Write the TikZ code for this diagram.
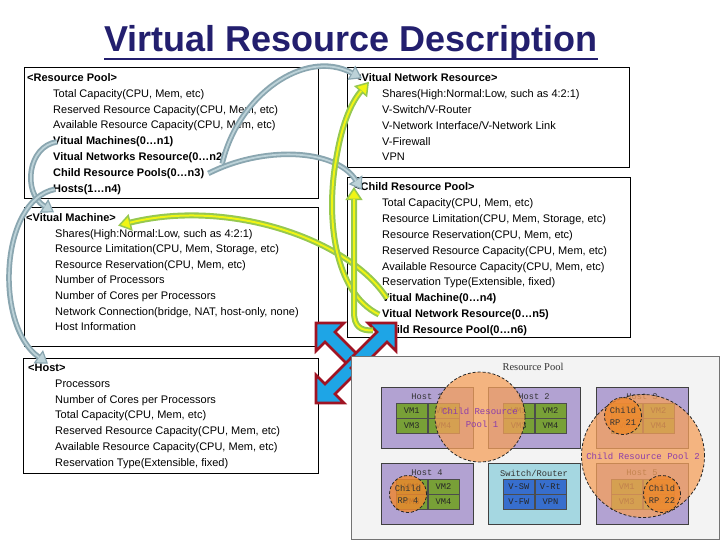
\documentclass[tikz,border=0pt]{standalone}
\usepackage{fontspec}
\setmainfont{Liberation Sans}
\newfontfamily\monof{Liberation Mono}
\newfontfamily\seriff{Liberation Serif}
\usetikzlibrary{arrows.meta}
\definecolor{navy}{RGB}{35,31,110}
\definecolor{grayarr}{RGB}{138,166,176}
\definecolor{grayarrlt}{RGB}{188,210,216}
\definecolor{greenarr}{RGB}{150,200,80}
\definecolor{yellowarr}{RGB}{240,245,20}
\definecolor{iconblue}{RGB}{30,165,230}
\definecolor{iconred}{RGB}{160,20,35}
\definecolor{hostfill}{RGB}{178,162,210}
\definecolor{swfill}{RGB}{165,215,225}
\definecolor{vmfill}{RGB}{120,160,55}
\definecolor{swcell}{RGB}{55,110,205}
\definecolor{crpfill}{RGB}{245,160,90}
\definecolor{crpsmall}{RGB}{240,135,45}
\definecolor{crptext}{RGB}{140,60,170}
\definecolor{shotfill}{RGB}{243,243,243}
\newcommand\dualpath[3]{\draw[#1] #3; \draw[#2] #3;}
\newcommand\vmgrid[8]{%
 \node[cell, fill=#4, anchor=north west] (#1a) at (#2,#3) {#5};
 \node[cell, fill=#4, anchor=north west] (#1b) at (#1a.north east) {#6};
 \node[cell, fill=#4, anchor=north west] (#1c) at (#1a.south west) {#7};
 \node[cell, fill=#4, anchor=north west] (#1d) at (#1a.south east) {#8};
}
\begin{document}
\begin{tikzpicture}[x=1pt,y=-1pt,
  infobox/.style={draw=black, line width=0.9pt, fill=white, inner sep=0pt},
  hdr/.style={anchor=base west, inner sep=0pt, font=\fontsize{11}{13}\selectfont\bfseries},
  itm/.style={anchor=base west, inner sep=0pt, font=\fontsize{11}{13}\selectfont},
  itmb/.style={anchor=base west, inner sep=0pt, font=\fontsize{11}{13}\selectfont\bfseries},
  garrow/.style={draw=grayarr, line width=5.5pt, -{Triangle[length=12pt,width=16pt,fill=grayarrlt,line width=1.2pt]}},
  gin/.style={draw=grayarrlt, line width=1.8pt, shorten >=11pt},
  grarrow/.style={draw=greenarr, line width=6pt, -{Triangle[length=13pt,width=17pt,fill=yellowarr,line width=1.5pt]}},
  grin/.style={draw=yellowarr, line width=2pt, shorten >=12pt},
  iconarr/.style={draw=iconred, fill=iconblue, line width=2.6pt, line join=miter},
  hostbx/.style={draw=black!75, line width=0.8pt, fill=hostfill, minimum width=92pt, minimum height=61pt, anchor=north west, inner sep=0pt},
  htitle/.style={inner sep=0pt, font=\monof\fontsize{8.7}{9}\selectfont, text=black!80},
  cell/.style={draw=black!70, line width=0.6pt, minimum width=31pt, minimum height=14.5pt, inner sep=0pt, font=\monof\fontsize{8.7}{9}\selectfont, text=black!85},
  crp/.style={circle, draw=black!85, dash pattern=on 3pt off 2pt, line width=0.8pt, fill=crpfill, fill opacity=0.75, inner sep=0pt},
  crps/.style={circle, draw=black!85, dash pattern=on 3pt off 2pt, line width=0.8pt, fill=crpsmall, fill opacity=0.8, inner sep=0pt, minimum size=37pt},
  crpt/.style={inner sep=0pt, font=\monof\fontsize{9}{10}\selectfont, text=crptext},
  crpst/.style={inner sep=0pt, font=\monof\fontsize{8.7}{9}\selectfont, text=black!80}
]
\useasboundingbox (0,0) rectangle (720,540);
\fill[white] (0,0) rectangle (720,540);

% title
\node[font=\fontsize{36}{40}\selectfont\bfseries, text=navy, anchor=base, inner sep=0pt] (title) at (351,52) {Virtual Resource Description};
\draw[navy, line width=2.6pt] ([yshift=-7pt]title.base west) -- ([yshift=-7pt]title.base east);

% left boxes
\node[infobox, minimum width=294pt, minimum height=131pt, anchor=north west] (rpbox) at (24,67) {};
\node[hdr] (rp0) at (27,81.5) {<Resource Pool>};
\node[itm] (rp1) at (53,97.3) {Total Capacity(CPU, Mem, etc)};
\node[itm] (rp2) at (53,113.1) {Reserved Resource Capacity(CPU, Mem, etc)};
\node[itm] (rp3) at (53,128.9) {Available Resource Capacity(CPU, Mem, etc)};
\node[itmb] (rp4) at (53,144.7) {Vitual Machines(0…n1)};
\node[itmb] (rp5) at (53,160.5) {Vitual Networks Resource(0…n2)};
\node[itmb] (rp6) at (53,176.3) {Child Resource Pools(0…n3)};
\node[itmb] (rp7) at (53,192.1) {Hosts(1…n4)};

\node[infobox, minimum width=294pt, minimum height=139pt, anchor=north west] (vmbox) at (24,207) {};
\node[hdr] (vm0) at (26,221.5) {<Vitual Machine>};
\node[itm] (vm1) at (55,237.1) {Shares(High:Normal:Low, such as 4:2:1)};
\node[itm] (vm2) at (55,252.7) {Resource Limitation(CPU, Mem, Storage, etc)};
\node[itm] (vm3) at (55,268.3) {Resource Reservation(CPU, Mem, etc)};
\node[itm] (vm4) at (55,283.9) {Number of Processors};
\node[itm] (vm5) at (55,299.5) {Number of Cores per Processors};
\node[itm] (vm6) at (55,315.1) {Network Connection(bridge, NAT, host-only, none)};
\node[itm] (vm7) at (55,330.7) {Host Information};

\node[infobox, minimum width=295pt, minimum height=115pt, anchor=north west] (hobox) at (23,358) {};
\node[hdr] (ho0) at (28,371.5) {<Host>};
\node[itm] (ho1) at (55,387.3) {Processors};
\node[itm] (ho2) at (55,403) {Number of Cores per Processors};
\node[itm] (ho3) at (55,418.8) {Total Capacity(CPU, Mem, etc)};
\node[itm] (ho4) at (55,434.5) {Reserved Resource Capacity(CPU, Mem, etc)};
\node[itm] (ho5) at (55,450.3) {Available Resource Capacity(CPU, Mem, etc)};
\node[itm] (ho6) at (55,466) {Reservation Type(Extensible, fixed)};

% right boxes
\node[infobox, minimum width=282pt, minimum height=100pt, anchor=north west] (vnbox) at (347,67) {};
\node[hdr] (vn0) at (355,81.5) {<Vitual Network Resource>};
\node[itm] (vn1) at (382,97.4) {Shares(High:Normal:Low, such as 4:2:1)};
\node[itm] (vn2) at (382,113.3) {V-Switch/V-Router};
\node[itm] (vn3) at (382,129.2) {V-Network Interface/V-Network Link};
\node[itm] (vn4) at (382,145.1) {V-Firewall};
\node[itm] (vn5) at (382,161) {VPN};

\node[infobox, minimum width=283pt, minimum height=160pt, anchor=north west] (crpbox) at (347,177) {};
\node[hdr] (crp0) at (354,191) {<Child Resource Pool>};
\node[itm] (crp1) at (382,206.8) {Total Capacity(CPU, Mem, etc)};
\node[itm] (crp2) at (382,222.6) {Resource Limitation(CPU, Mem, Storage, etc)};
\node[itm] (crp3) at (382,238.4) {Resource Reservation(CPU, Mem, etc)};
\node[itm] (crp4) at (382,254.2) {Reserved Resource Capacity(CPU, Mem, etc)};
\node[itm] (crp5) at (382,270) {Available Resource Capacity(CPU, Mem, etc)};
\node[itm] (crp6) at (382,285.8) {Reservation Type(Extensible, fixed)};
\node[itmb] (crp7) at (382,301.6) {Vitual Machine(0…n4)};
\node[itmb] (crp8) at (382,317.4) {Vitual Network Resource(0…n5)};
\node[itmb] (crp9) at (382,333.2) {Child Resource Pool(0…n6)};

% four-way icon
\begin{scope}[shift={(356,363)}]
 \foreach \sx/\sy in {1/1,-1/1,1/-1,-1/-1} {
  \begin{scope}[xscale=\sx, yscale=\sy]
   \draw[iconarr] (-40,-40) -- (-12,-40) -- (-21,-31) -- (5,-5) -- (-5,5) -- (-31,-21) -- (-40,-12) -- cycle;
  \end{scope}
 }
\end{scope}

% screenshot
\node[draw=black!55, line width=1.2pt, fill=shotfill, minimum width=368pt, minimum height=183pt, anchor=north west, inner sep=0pt] (shot) at (351,356) {};
\node[inner sep=0pt, font=\seriff\fontsize{10.5}{11}\selectfont, text=black!80] (shott) at (533,367) {Resource Pool};

\node[hostbx] (h1) at (381,387) {};
\node[hostbx] (h2) at (488,387) {};
\node[hostbx] (h3) at (596,387) {};
\node[hostbx] (h4) at (381,463) {};
\node[hostbx, fill=swfill] (sw) at (488,463) {};
\node[hostbx] (h5) at (596,463) {};
\node[htitle] (h1t) at (427,397) {Host 1};
\node[htitle] (h2t) at (534,397) {Host 2};
\node[htitle] (h3t) at (642,397) {Host 3};
\node[htitle] (h4t) at (427,473) {Host 4};
\node[htitle] (swt) at (534,473) {Switch/Router};
\node[htitle] (h5t) at (642,473) {Host 5};
\vmgrid{ga}{396}{403}{vmfill}{VM1}{VM2}{VM3}{VM4}
\vmgrid{gb}{503}{403}{vmfill}{VM1}{VM2}{VM3}{VM4}
\vmgrid{gc}{611}{403}{vmfill}{VM1}{VM2}{VM3}{VM4}
\vmgrid{gd}{396}{479}{vmfill}{VM1}{VM2}{VM3}{VM4}
\vmgrid{ge}{503}{479}{swcell}{V-SW}{V-Rt}{V-FW}{VPN}
\vmgrid{gf}{611}{479}{vmfill}{VM1}{VM2}{VM3}{VM4}

\node[crp, minimum size=90pt] (c1) at (480,417) {};
\node[crp, minimum size=123pt] (c2) at (643,456) {};
\node[crps] (c21) at (623,416) {};
\node[crps] (c22) at (662,494) {};
\node[crps] (c4) at (408,494) {};
\node[crpt] (c1a) at (480,411) {Child Resource};
\node[crpt] (c1b) at (482,424) {Pool 1};
\node[crpt] (c2a) at (643,456) {Child Resource Pool 2};
\node[crpst] (c21a) at (623,410) {Child};
\node[crpst] (c21b) at (623,423) {RP 21};
\node[crpst] (c22a) at (662,488) {Child};
\node[crpst] (c22b) at (662,501) {RP 22};
\node[crpst] (c4a) at (408,488) {Child};
\node[crpst] (c4b) at (408,501) {RP 4};

% gray arrows
\dualpath{garrow}{gin}{([xshift=4pt]rp4.west) .. controls (28,146) and (22,192) .. ([xshift=28pt,yshift=1pt]vm0.north west)}
\dualpath{garrow}{gin}{([xshift=2pt]rp7.west) .. controls (0,200) and (-6,325) .. ([xshift=20pt]ho0.north west)}
\dualpath{garrow}{gin}{([xshift=-4pt,yshift=-6pt]rp5.east) .. controls (238,95) and (305,48) .. ([xshift=7pt,yshift=-5pt]vn0.north west)}
\dualpath{garrow}{gin}{([xshift=4pt]rp6.east) .. controls (262,146) and (335,148) .. ([xshift=8pt,yshift=-7pt]crp0.north west)}

% green arrows
\dualpath{grarrow}{grin}{([xshift=5pt,yshift=-5pt]crp7.north west) .. controls (350,240) and (230,198) .. ([xshift=2pt,yshift=-8pt]vm0.east)}
\dualpath{grarrow}{grin}{([xshift=-3pt]crp8.west) .. controls (333,292) and (326,215) .. (336,160) .. controls (341,128) and (350,104) .. ([xshift=14pt]vn0.south west)}
\dualpath{grarrow}{grin}{([xshift=-9pt]crp9.west) .. controls (360,331) and (354,326) .. (354,312) -- (crp0.west)}
\end{tikzpicture}
\end{document}
